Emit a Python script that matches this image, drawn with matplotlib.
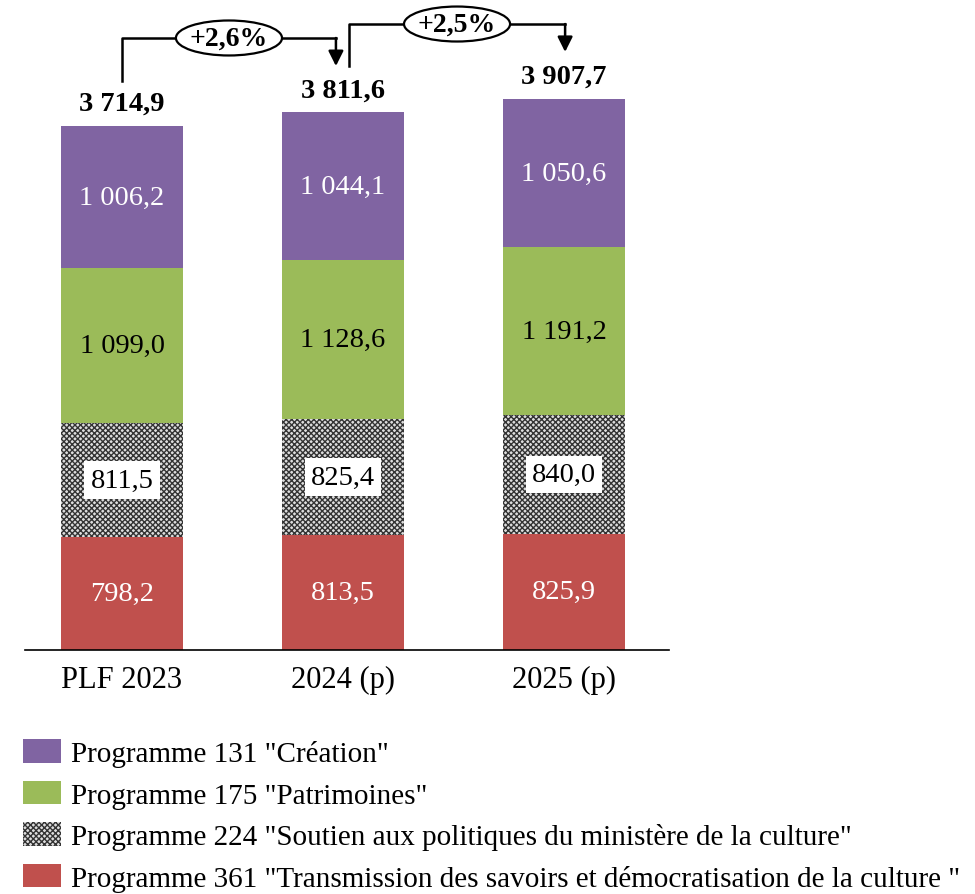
import matplotlib.pyplot as plt
from matplotlib.patches import Ellipse, Patch

plt.rcParams['font.family'] = ['Liberation Serif', 'DejaVu Serif']
plt.rcParams['hatch.linewidth'] = 1.0

categories = ["PLF 2023", "2024 (p)", "2025 (p)"]
series_names = [
    'Programme 361 "Transmission des savoirs et démocratisation de la culture "',
    'Programme 224 "Soutien aux politiques du ministère de la culture"',
    'Programme 175 "Patrimoines"',
    'Programme 131 "Création"',
]
p361 = [798.2, 813.5, 825.9]
p224 = [811.5, 825.4, 840.0]
p175 = [1099.0, 1128.6, 1191.2]
p131 = [1006.2, 1044.1, 1050.6]
totals = [3714.9, 3811.6, 3907.7]
growth = ["+2,6%", "+2,5%"]

colors = ["#C0504D", "#FFFFFF", "#9BBB59", "#8064A2"]
text_colors = ["white", "black", "black", "white"]
HATCH = "xxxxxx"


def fr(v):
    s = f"{v:,.1f}"
    return s.replace(",", " ").replace(".", ",")


fig = plt.figure(figsize=(9.75, 8.95), dpi=100)
ax = fig.add_axes([0, 0.2726, 1, 0.7274])

x = list(range(len(categories)))
width = 0.552
bottom = [0.0] * len(x)
for i, vals in enumerate([p361, p224, p175, p131]):
    if i == 1:
        ax.bar(x, vals, width, bottom=bottom, facecolor="#dddddd",
               edgecolor="#333333", hatch=HATCH, linewidth=0)
    else:
        ax.bar(x, vals, width, bottom=bottom, color=colors[i], linewidth=0)
    for xi, v, b in zip(x, vals, bottom):
        kw = {}
        if i == 1:
            kw["bbox"] = dict(boxstyle="square,pad=0.22", fc="white", ec="none")
        ax.text(xi, b + v / 2, fr(v), ha="center", va="center",
                fontsize=20.5, color=text_colors[i], **kw)
    bottom = [b + v for b, v in zip(bottom, vals)]

# totals
for xi, t in zip(x, totals):
    ax.text(xi, t + 70, fr(t), ha="center", va="bottom", fontsize=20.5,
            fontweight="bold")

# growth arrows
arrow_specs = [
    # start x, end x, y start, y line, y tip
    (0.0, 0.968, 4034, 4339, 4140),
    (1.027, 2.005, 4140, 4438, 4240),
]
for (xs, xe, ys, yl, yt), g in zip(arrow_specs, growth):
    ax.plot([xs, xs, xe, xe], [ys, yl, yl, yl], color="black", lw=1.8,
            clip_on=False)
    ax.annotate("", xy=(xe, yt), xytext=(xe, yl),
                arrowprops=dict(arrowstyle="-|>,head_length=0.9,head_width=0.45",
                                color="black", lw=1.8, shrinkA=0, shrinkB=0),
                annotation_clip=False)
    xm = (xs + xe) / 2
    ax.add_patch(Ellipse((xm, yl), 0.48, 248, facecolor="white",
                         edgecolor="black", lw=1.6, clip_on=False, zorder=3))
    ax.text(xm, yl, g, ha="center", va="center", fontsize=20,
            fontweight="bold", zorder=4)

ax.set_xlim(-122 / 221, (975 - 122) / 221)
ax.set_ylim(0, 651 / 0.14105)
ax.set_xticks(x)
ax.set_xticklabels(categories, fontsize=22)
ax.tick_params(axis="x", length=0, pad=11)
ax.set_yticks([])
for s in ["top", "left", "right"]:
    ax.spines[s].set_visible(False)
ax.spines["bottom"].set_bounds(-0.439, 2.475)
ax.spines["bottom"].set_linewidth(1.2)
ax.patch.set_visible(False)

leg_handles = [
    Patch(facecolor="#8064A2"),
    Patch(facecolor="#9BBB59"),
    Patch(facecolor="#dddddd", edgecolor="#333333", hatch=HATCH, linewidth=0),
    Patch(facecolor="#C0504D"),
]
fig.legend(leg_handles, series_names[::-1], loc="upper left",
           bbox_to_anchor=(0.012, 0.186), frameon=False, fontsize=21,
           handlelength=1.3, handleheight=0.86, labelspacing=0.47,
           handletextpad=0.32, borderaxespad=0)

fig.savefig("out.png", dpi=100)
